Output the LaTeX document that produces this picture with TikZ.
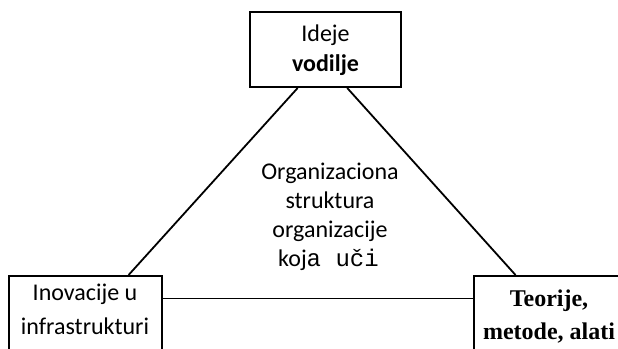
\documentclass[tikz,border=0pt]{standalone}
\usepackage{fontspec}
\setmainfont{Carlito}
\newfontfamily\timesfam{Liberation Serif}
\newfontfamily\courfam{Liberation Mono}
\usetikzlibrary{calc}
\begin{document}
\begin{tikzpicture}[x=0.5pt,y=-0.5pt,
  box/.style={draw, line width=1pt, inner sep=0pt},
  txt/.style={inner sep=0pt, anchor=base, font=\fontsize{12}{14}\selectfont},
  conn/.style={line width=0.9pt}]
\useasboundingbox (0,0) rectangle (618,349);
\begin{scope}
\clip (0,0) rectangle (618,349);
\node[box, minimum width=75.5pt, minimum height=37.5pt] (top) at (325.5,49.5) {};
\node[box, minimum width=76.5pt, minimum height=50pt] (left) at (85.5,326) {};
\node[box, minimum width=80pt, minimum height=50pt] (right) at (554,326) {};
\draw[conn] ($(top.south west)!0.318!(top.south east)$) -- ($(left.north west)!0.778!(left.north east)$);
\draw[conn] ($(top.south west)!0.642!(top.south east)$) -- ($(right.north west)!0.2625!(right.north east)$);
\draw[conn] ($(left.north east)!0.23!(left.south east)$) -- ($(right.north west)!0.23!(right.south west)$);
\node[txt] (t1) at (325.5,41) {Ideje};
\node[txt] (t2) at (325.5,71) {\bfseries vodilje};
\node[txt] (l1) at (85,300) {Inovacije u};
\node[txt] (l2) at (85,334) {infrastrukturi};
\node[txt] (r1) at (549,306) {\timesfam\bfseries Teorije,};
\node[txt] (r2) at (549,339) {\timesfam\bfseries metode, alati};
\node[txt] (c1) at (330,179) {Organizaciona};
\node[txt] (c2) at (330,208) {struktura};
\node[txt] (c3) at (330,237) {organizacije};
\node[txt] (c4) at (328.5,266) {koj{\courfam a uči}};
\end{scope}
\end{tikzpicture}
\end{document}
